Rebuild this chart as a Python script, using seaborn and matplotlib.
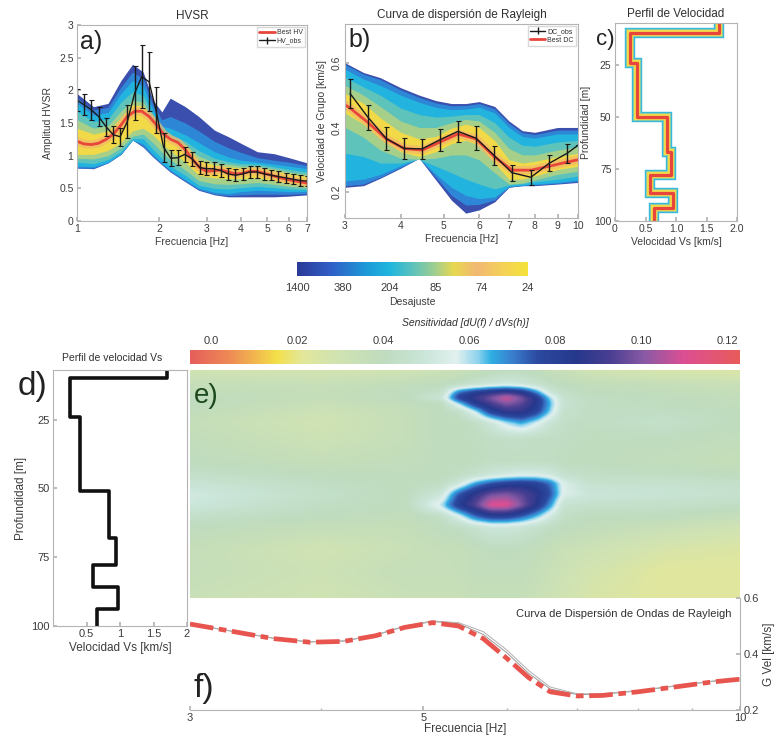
import numpy as np
import matplotlib
matplotlib.use("Agg")
import matplotlib.pyplot as plt
import seaborn as sns
from matplotlib.colors import LinearSegmentedColormap, Normalize
from matplotlib.lines import Line2D

# ---------------------------------------------------------------- data
# a) HVSR
hv_freq = [1.00, 1.06, 1.13, 1.20, 1.28, 1.36, 1.44, 1.53, 1.63, 1.73, 1.84, 1.95, 2.08, 2.21,
           2.35, 2.49, 2.65, 2.82, 2.99, 3.18, 3.38, 3.59, 3.82, 4.06, 4.31, 4.58, 4.87, 5.18,
           5.50, 5.85, 6.21, 6.60, 7.00]
hv_obs = [1.85, 1.78, 1.70, 1.60, 1.44, 1.32, 1.29, 1.52, 1.96, 2.21, 2.13, 1.70, 1.13, 0.96,
          0.97, 1.02, 0.95, 0.82, 0.80, 0.80, 0.77, 0.72, 0.70, 0.72, 0.75, 0.75, 0.72, 0.70,
          0.68, 0.66, 0.64, 0.62, 0.61]
hv_err = [0.17, 0.16, 0.15, 0.15, 0.14, 0.13, 0.14, 0.25, 0.42, 0.48, 0.45, 0.35, 0.22, 0.12,
          0.12, 0.12, 0.11, 0.10, 0.10, 0.10, 0.10, 0.09, 0.09, 0.09, 0.09, 0.09, 0.09, 0.08,
          0.08, 0.08, 0.08, 0.08, 0.08]
hv_best = [1.22, 1.18, 1.17, 1.19, 1.25, 1.33, 1.45, 1.60, 1.68, 1.68, 1.60, 1.48, 1.33, 1.25,
           1.20, 1.10, 0.95, 0.82, 0.76, 0.77, 0.78, 0.75, 0.72, 0.73, 0.76, 0.76, 0.73, 0.70,
           0.67, 0.64, 0.62, 0.60, 0.58]

env_freq_a = [1.0, 1.15, 1.3, 1.45, 1.6, 1.75, 1.9, 2.05, 2.2, 2.5, 2.8, 3.2, 3.6, 4.0, 4.6, 5.3, 6.0, 7.0]
a_up_dark = [1.95, 1.75, 1.80, 2.15, 2.40, 2.28, 1.85, 1.67, 1.88, 1.75, 1.60, 1.39, 1.29, 1.19, 1.06, 1.03, 0.97, 0.89]
a_up_blue = [1.88, 1.70, 1.74, 2.05, 2.28, 2.18, 1.78, 1.55, 1.60, 1.50, 1.38, 1.22, 1.12, 1.05, 0.97, 0.93, 0.90, 0.85]
a_up_cyan = [1.80, 1.62, 1.66, 1.95, 2.15, 2.06, 1.70, 1.45, 1.42, 1.32, 1.20, 1.06, 0.98, 0.93, 0.90, 0.87, 0.84, 0.80]
a_up_teal = [1.68, 1.52, 1.56, 1.82, 1.98, 1.92, 1.62, 1.38, 1.32, 1.22, 1.08, 0.96, 0.91, 0.88, 0.87, 0.83, 0.79, 0.75]
a_up_green = [1.55, 1.42, 1.46, 1.68, 1.85, 1.82, 1.56, 1.35, 1.28, 1.16, 0.99, 0.90, 0.87, 0.84, 0.84, 0.80, 0.75, 0.71]
a_up_yel = [1.42, 1.33, 1.38, 1.58, 1.78, 1.76, 1.53, 1.36, 1.29, 1.14, 0.92, 0.86, 0.83, 0.81, 0.82, 0.77, 0.72, 0.68]
a_lo_yel = [1.02, 1.02, 1.08, 1.20, 1.38, 1.42, 1.32, 1.18, 1.08, 0.90, 0.70, 0.66, 0.65, 0.65, 0.66, 0.62, 0.58, 0.55]
a_lo_green = [0.96, 0.95, 1.00, 1.12, 1.30, 1.33, 1.20, 1.05, 0.94, 0.78, 0.62, 0.57, 0.56, 0.57, 0.59, 0.56, 0.53, 0.51]
a_lo_teal = [0.90, 0.88, 0.94, 1.06, 1.26, 1.26, 1.10, 0.96, 0.84, 0.70, 0.55, 0.50, 0.49, 0.51, 0.53, 0.51, 0.49, 0.48]
a_lo_cyan = [0.84, 0.83, 0.90, 1.03, 1.24, 1.18, 1.02, 0.89, 0.78, 0.63, 0.50, 0.44, 0.42, 0.45, 0.47, 0.46, 0.45, 0.45]
a_lo_blue = [0.81, 0.81, 0.89, 1.02, 1.24, 1.14, 0.99, 0.87, 0.76, 0.61, 0.48, 0.41, 0.39, 0.40, 0.41, 0.41, 0.41, 0.42]
a_lo_dark = [0.81, 0.80, 0.89, 1.02, 1.24, 1.13, 0.98, 0.86, 0.75, 0.60, 0.47, 0.40, 0.37, 0.37, 0.37, 0.37, 0.38, 0.40]

# b) Rayleigh dispersion
dc_freq = [3.08, 3.38, 3.71, 4.07, 4.47, 4.90, 5.38, 5.90, 6.48, 7.11, 7.84, 8.61, 9.45, 10.0]
dc_obs = [0.505, 0.431, 0.366, 0.335, 0.334, 0.362, 0.388, 0.367, 0.314, 0.260, 0.246, 0.289, 0.320, 0.345]
dc_err = [0.046, 0.040, 0.036, 0.033, 0.030, 0.034, 0.033, 0.036, 0.030, 0.025, 0.023, 0.025, 0.030, 0.0]
dc_best_freq = [3.0, 3.08, 3.38, 3.71, 4.07, 4.47, 4.90, 5.38, 5.90, 6.48, 7.11, 7.84, 8.61, 9.45, 10.0]
dc_best = [0.47, 0.46, 0.415, 0.365, 0.335, 0.33, 0.355, 0.38, 0.365, 0.31, 0.268, 0.268, 0.28, 0.293, 0.30]

env_freq_b = [3.0, 3.3, 3.6, 4.0, 4.4, 4.8, 5.2, 5.6, 6.0, 6.5, 7.0, 7.5, 8.0, 9.0, 10.0]
b_up_dark = [0.600, 0.570, 0.554, 0.523, 0.500, 0.483, 0.474, 0.474, 0.480, 0.465, 0.420, 0.390, 0.385, 0.400, 0.400]
b_up_blue = [0.595, 0.565, 0.548, 0.516, 0.493, 0.476, 0.467, 0.468, 0.474, 0.458, 0.413, 0.384, 0.378, 0.392, 0.392]
b_up_cyan = [0.580, 0.550, 0.530, 0.500, 0.478, 0.462, 0.455, 0.457, 0.463, 0.445, 0.400, 0.372, 0.367, 0.380, 0.380]
b_up_teal = [0.555, 0.525, 0.500, 0.460, 0.440, 0.432, 0.435, 0.440, 0.440, 0.415, 0.370, 0.345, 0.342, 0.355, 0.360]
b_up_green = [0.530, 0.500, 0.465, 0.420, 0.400, 0.400, 0.415, 0.425, 0.420, 0.385, 0.335, 0.315, 0.315, 0.330, 0.340]
b_up_yel = [0.505, 0.475, 0.430, 0.385, 0.365, 0.372, 0.398, 0.410, 0.400, 0.360, 0.300, 0.290, 0.295, 0.310, 0.320]
b_lo_yel = [0.445, 0.410, 0.365, 0.325, 0.310, 0.325, 0.350, 0.360, 0.345, 0.290, 0.240, 0.240, 0.250, 0.270, 0.280]
b_lo_green = [0.400, 0.370, 0.330, 0.305, 0.302, 0.305, 0.315, 0.315, 0.300, 0.260, 0.225, 0.228, 0.238, 0.255, 0.265]
b_lo_teal = [0.320, 0.310, 0.290, 0.290, 0.302, 0.280, 0.260, 0.240, 0.225, 0.210, 0.222, 0.226, 0.232, 0.240, 0.250]
b_lo_cyan = [0.235, 0.240, 0.255, 0.282, 0.304, 0.255, 0.215, 0.190, 0.180, 0.185, 0.218, 0.222, 0.225, 0.230, 0.238]
b_lo_blue = [0.220, 0.225, 0.246, 0.276, 0.305, 0.245, 0.190, 0.160, 0.162, 0.176, 0.216, 0.220, 0.222, 0.227, 0.233]
b_lo_dark = [0.215, 0.220, 0.243, 0.274, 0.305, 0.237, 0.175, 0.135, 0.145, 0.170, 0.215, 0.220, 0.220, 0.225, 0.230]

# c) / d) velocity profiles (layer top depth [m], Vs [km/s])
c_layer_top = [0, 10, 24, 50, 67, 78, 86.5, 94]
c_vs = [1.70, 0.24, 0.36, 0.85, 0.91, 0.57, 0.95, 0.64]
d_layer_top = [0, 10, 24, 51, 68, 78, 86, 94]
d_vs = [1.70, 0.25, 0.40, 0.84, 0.94, 0.60, 0.97, 0.66]
profile_bottom = 100

# colour bar of misfit
misfit_labels = ["1400", "380", "204", "85", "74", "24"]

# e) sensitivity field
sens_freq = [3.0, 4.0, 4.8, 5.2, 5.4, 5.6, 5.8, 6.0, 6.2, 6.4, 6.6, 6.8, 7.2, 8.5, 10.0]
sens_depth = [7, 12, 15, 17, 19, 22, 26, 32, 40, 45, 48, 52, 56, 60, 64, 72, 80, 89.5]
sens_grid = [
    [0.030, 0.028, 0.030, 0.032, 0.034, 0.036, 0.038, 0.040, 0.040, 0.038, 0.036, 0.034, 0.030, 0.026, 0.024],
    [0.036, 0.035, 0.038, 0.040, 0.042, 0.046, 0.050, 0.052, 0.050, 0.046, 0.042, 0.040, 0.038, 0.036, 0.034],
    [0.038, 0.036, 0.040, 0.044, 0.072, 0.082, 0.088, 0.092, 0.086, 0.070, 0.050, 0.043, 0.040, 0.038, 0.036],
    [0.040, 0.036, 0.040, 0.050, 0.080, 0.090, 0.100, 0.110, 0.100, 0.085, 0.062, 0.046, 0.042, 0.040, 0.038],
    [0.040, 0.034, 0.038, 0.040, 0.060, 0.082, 0.092, 0.100, 0.095, 0.085, 0.065, 0.047, 0.042, 0.040, 0.038],
    [0.038, 0.032, 0.036, 0.040, 0.043, 0.058, 0.080, 0.088, 0.088, 0.080, 0.062, 0.045, 0.042, 0.042, 0.040],
    [0.036, 0.030, 0.036, 0.040, 0.040, 0.042, 0.050, 0.060, 0.066, 0.058, 0.048, 0.043, 0.042, 0.044, 0.040],
    [0.038, 0.032, 0.036, 0.040, 0.040, 0.041, 0.042, 0.043, 0.043, 0.042, 0.042, 0.042, 0.040, 0.040, 0.038],
    [0.040, 0.036, 0.038, 0.040, 0.040, 0.040, 0.042, 0.042, 0.042, 0.042, 0.042, 0.040, 0.040, 0.038, 0.036],
    [0.044, 0.040, 0.040, 0.040, 0.042, 0.046, 0.050, 0.053, 0.055, 0.055, 0.052, 0.046, 0.043, 0.042, 0.040],
    [0.048, 0.042, 0.040, 0.042, 0.050, 0.066, 0.075, 0.080, 0.082, 0.080, 0.072, 0.055, 0.046, 0.046, 0.044],
    [0.052, 0.044, 0.040, 0.050, 0.075, 0.088, 0.098, 0.100, 0.095, 0.088, 0.076, 0.055, 0.050, 0.048, 0.046],
    [0.050, 0.042, 0.040, 0.060, 0.082, 0.095, 0.112, 0.112, 0.100, 0.086, 0.068, 0.046, 0.045, 0.044, 0.042],
    [0.044, 0.040, 0.038, 0.043, 0.055, 0.072, 0.080, 0.080, 0.074, 0.064, 0.052, 0.043, 0.040, 0.040, 0.036],
    [0.040, 0.036, 0.036, 0.040, 0.042, 0.046, 0.050, 0.050, 0.048, 0.045, 0.042, 0.040, 0.038, 0.034, 0.030],
    [0.036, 0.030, 0.034, 0.036, 0.036, 0.038, 0.040, 0.040, 0.040, 0.038, 0.036, 0.034, 0.032, 0.026, 0.024],
    [0.036, 0.032, 0.036, 0.036, 0.036, 0.038, 0.038, 0.038, 0.038, 0.036, 0.034, 0.032, 0.028, 0.022, 0.022],
    [0.034, 0.030, 0.034, 0.034, 0.034, 0.036, 0.036, 0.036, 0.036, 0.034, 0.032, 0.030, 0.026, 0.022, 0.022],
]
sens_ticks = [0.0, 0.02, 0.04, 0.06, 0.08, 0.10, 0.12]
sens_tick_labels = ["0.0", "0.02", "0.04", "0.06", "0.08", "0.10", "0.12"]

# f) dispersion curve
f_freq = [3.0, 3.3, 3.6, 3.9, 4.2, 4.5, 4.8, 5.1, 5.4, 5.7, 6.0, 6.3, 6.6, 7.0, 7.4, 8.0, 8.7, 9.4, 10.0]
f_vel = [0.507, 0.480, 0.455, 0.442, 0.445, 0.465, 0.495, 0.512, 0.500, 0.455, 0.385, 0.315, 0.265,
         0.250, 0.252, 0.265, 0.283, 0.300, 0.310]
f_gray1 = [0.507, 0.480, 0.456, 0.443, 0.446, 0.467, 0.498, 0.516, 0.508, 0.470, 0.405, 0.330, 0.275,
           0.255, 0.256, 0.268, 0.286, 0.302, 0.312]
f_gray2 = [0.507, 0.481, 0.457, 0.444, 0.447, 0.468, 0.500, 0.518, 0.512, 0.480, 0.415, 0.340, 0.282,
           0.258, 0.258, 0.270, 0.287, 0.303, 0.313]

# ---------------------------------------------------------------- style
sns.set_theme(style="white")
plt.rcParams['font.family'] = ['Liberation Sans', 'DejaVu Sans']
plt.rcParams.update({
    'axes.edgecolor': '#b4b4b4', 'axes.linewidth': 0.8,
    'xtick.direction': 'in', 'ytick.direction': 'in',
    'xtick.bottom': True, 'ytick.left': True,
    'xtick.color': '#b4b4b4', 'ytick.color': '#b4b4b4',
    'xtick.labelcolor': '#3c3c3c', 'ytick.labelcolor': '#3c3c3c',
    'xtick.labelsize': 7.5, 'ytick.labelsize': 7.5,
    'axes.labelsize': 7.5, 'axes.labelcolor': '#3c3c3c',
    'xtick.major.size': 3, 'ytick.major.size': 3,
    'xtick.minor.size': 1.8, 'ytick.minor.size': 1.8,
    'xtick.major.pad': 2.5, 'ytick.major.pad': 2.5,
    'text.color': '#303030',
})

W, H = 777, 753
fig = plt.figure(figsize=(W / 100, H / 100), dpi=100)
fig.patch.set_facecolor('white')


def rect(x0, y0, x1, y1):
    return [x0 / W, 1 - y1 / H, (x1 - x0) / W, (y1 - y0) / H]


def fpos(x, y):
    return x / W, 1 - y / H


RED = '#e8463c'
ORANGE = '#f3b86a'
band_cols = ['#3a4fae', '#2e86d6', '#22b4df', '#5ec3bb', '#a6d08a', '#f2d948']

parula = LinearSegmentedColormap.from_list('misfit', [
    (0.0, '#2b3a98'), (0.15, '#3060c8'), (0.3, '#1d9ad8'), (0.4, '#20b6de'),
    (0.5, '#5cc2bc'), (0.6, '#a2cf8e'), (0.68, '#e8d850'), (0.78, '#f2b874'),
    (0.88, '#f4cf5c'), (1.0, '#f5e33a')])

svmin, svmax = -0.005, 0.123
stops = [(-0.005, '#e65f5c'), (0.004, '#ee8a55'), (0.010, '#f2b84e'), (0.015, '#f4e04a'),
         (0.021, '#e3e79a'), (0.028, '#d3e4b0'), (0.040, '#bfdcbf'), (0.050, '#cbe6da'),
         (0.057, '#e2f1ef'), (0.062, '#8fd3ee'), (0.065, '#2fb0e3'), (0.070, '#3a7fcf'),
         (0.076, '#2c4aa0'), (0.085, '#26388c'), (0.093, '#4a3f92'), (0.101, '#8a5aa5'),
         (0.110, '#dc4f94'), (0.123, '#e85b5b')]
sens_cmap = LinearSegmentedColormap.from_list(
    'sens', [((v - svmin) / (svmax - svmin), c) for v, c in stops])


def log_ticks(ax, ticks, labels):
    ax.xaxis.set_major_locator(matplotlib.ticker.FixedLocator(ticks))
    ax.xaxis.set_major_formatter(matplotlib.ticker.FixedFormatter(labels))
    ax.xaxis.set_minor_locator(matplotlib.ticker.NullLocator())


def steps(tops, vs, bottom):
    xs, ys = [], []
    for i, v in enumerate(vs):
        b = tops[i + 1] if i + 1 < len(tops) else bottom
        xs += [v, v]
        ys += [tops[i], b]
    return xs, ys


# ---------------------------------------------------------------- a) HVSR
axA = fig.add_axes(rect(77, 25, 307, 221))
a_bands = [(a_up_dark, a_lo_dark), (a_up_blue, a_lo_blue), (a_up_cyan, a_lo_cyan),
           (a_up_teal, a_lo_teal), (a_up_green, a_lo_green), (a_up_yel, a_lo_yel)]
for (up, lo), col in zip(a_bands, band_cols):
    axA.fill_between(env_freq_a, lo, up, color=col, lw=0)
axA.plot(hv_freq, hv_best, color=ORANGE, lw=6, alpha=0.7, solid_capstyle='round')
sns.lineplot(x=hv_freq, y=hv_best, ax=axA, color=RED, lw=2, legend=False)
axA.errorbar(hv_freq, hv_obs, yerr=hv_err, color='k', lw=1, elinewidth=1, capsize=1.8, capthick=0.8)
axA.set_xscale('log')
axA.set_xlim(1, 7)
axA.set_ylim(0, 3)
log_ticks(axA, [1, 2, 3, 4, 5, 6, 7], ['1', '2', '3', '4', '5', '6', '7'])
axA.set_yticks([0, 0.5, 1, 1.5, 2, 2.5, 3])
axA.set_yticklabels(['0', '0.5', '1', '1.5', '2', '2.5', '3'])
axA.set_title('HVSR', fontsize=8.5, pad=4, color='#303030')
axA.set_xlabel('Frecuencia [Hz]', labelpad=2)
axA.set_ylabel('Amplitud HVSR', labelpad=4)
hA = [Line2D([], [], color=RED, lw=2),
      axA.errorbar([], [], yerr=[], color='k', lw=1, capsize=1.5)]
axA.legend(hA, ['Best HV', 'HV_obs'], loc='upper right', fontsize=5, frameon=True,
           handlelength=2.2, borderpad=0.3, labelspacing=0.2, handletextpad=0.3,
           edgecolor='#d0d0d0', fancybox=False, borderaxespad=0.3)

# ---------------------------------------------------------------- b) dispersion
axB = fig.add_axes(rect(345, 24, 578, 218))
b_bands = [(b_up_dark, b_lo_dark), (b_up_blue, b_lo_blue), (b_up_cyan, b_lo_cyan),
           (b_up_teal, b_lo_teal), (b_up_green, b_lo_green), (b_up_yel, b_lo_yel)]
for (up, lo), col in zip(b_bands, band_cols):
    axB.fill_between(env_freq_b, lo, up, color=col, lw=0)
axB.plot(dc_best_freq, dc_best, color=ORANGE, lw=6, alpha=0.7)
sns.lineplot(x=dc_best_freq, y=dc_best, ax=axB, color=RED, lw=2, legend=False)
axB.errorbar(dc_freq, dc_obs, yerr=dc_err, color='k', lw=1, elinewidth=1, capsize=1.8, capthick=0.8)
axB.set_xscale('log')
axB.set_xlim(3, 10)
axB.set_ylim(0.12, 0.72)
log_ticks(axB, [3, 4, 5, 6, 7, 8, 9, 10], ['3', '4', '5', '6', '7', '8', '9', '10'])
axB.set_yticks([0.2, 0.4, 0.6])
axB.set_yticklabels(['0.2', '0.4', '0.6'], rotation=90, va='center')
axB.set_title('Curva de dispersión de Rayleigh', fontsize=8.5, pad=4, color='#303030')
axB.set_xlabel('Frecuencia [Hz]', labelpad=2)
axB.set_ylabel('Velocidad de Grupo [km/s]', labelpad=3)
hB = [axB.errorbar([], [], yerr=[], color='k', lw=1, capsize=1.5),
      Line2D([], [], color=RED, lw=2)]
axB.legend(hB, ['DC_obs', 'Best DC'], loc='upper right', fontsize=5, frameon=True,
           handlelength=2.2, borderpad=0.3, labelspacing=0.2, handletextpad=0.3,
           edgecolor='#d0d0d0', fancybox=False, borderaxespad=0.3)

# ---------------------------------------------------------------- c) profile
axC = fig.add_axes(rect(615, 23, 737, 221))
cx, cy = steps(c_layer_top, c_vs, profile_bottom)
for lw, col in [(7.5, '#35b8e0'), (5.8, '#8ccaa0'), (4.3, '#f4d94a')]:
    axC.plot(cx, cy, color=col, lw=lw, solid_joinstyle='miter')
sns.lineplot(x=cx, y=cy, ax=axC, color=RED, lw=2.3, sort=False, estimator=None, legend=False)
axC.set_xlim(0, 2)
axC.set_ylim(100, 5)
axC.set_xticks([0, 0.5, 1, 1.5, 2])
axC.set_xticklabels(['0', '0.5', '1.0', '1.5', '2.0'])
axC.set_yticks([25, 50, 75, 100])
axC.set_yticklabels(['25', '50', '75', '100'])
axC.set_title('Perfil de Velocidad', fontsize=8.5, pad=4, color='#303030')
axC.set_xlabel('Velocidad Vs [km/s]', labelpad=2)
axC.set_ylabel('Profundidad [m]', labelpad=2)

# ---------------------------------------------------------------- misfit colour bar
cax1 = fig.add_axes(rect(297, 262, 528, 276))
cax1.imshow(np.linspace(0, 1, 256)[None, :], aspect='auto', cmap=parula, extent=[0, 5, 0, 1])
cax1.set_xticks(range(6))
cax1.set_xticklabels(misfit_labels, fontsize=8)
cax1.set_yticks([])
cax1.tick_params(axis='x', length=0, pad=5)
for s in cax1.spines.values():
    s.set_visible(False)
cax1.set_xlabel('Desajuste', labelpad=3)

# ---------------------------------------------------------------- sensitivity colour bar
caxS = fig.add_axes(rect(190, 350, 740, 364))
caxS.imshow(np.linspace(svmin, svmax, 512)[None, :], aspect='auto', cmap=sens_cmap,
            norm=Normalize(svmin, svmax), extent=[svmin, svmax, 0, 1])
caxS.set_xlim(svmin, svmax)
caxS.xaxis.tick_top()
caxS.set_xticks(sens_ticks)
caxS.set_xticklabels(sens_tick_labels, fontsize=8)
caxS.tick_params(axis='x', length=0, pad=3, top=True, bottom=False)
caxS.set_yticks([])
for s in caxS.spines.values():
    s.set_visible(False)
fig.text(*fpos(465, 323), 'Sensitividad [dU(f) / dVs(h)]', ha='center', va='center',
         fontsize=7.5, style='italic', color='#303030')

# ---------------------------------------------------------------- e) sensitivity image
axE = fig.add_axes(rect(190, 370, 740, 598))
logf = np.log(sens_freq)
fx = np.linspace(logf[0], logf[-1], 440)
dy = np.linspace(sens_depth[0], sens_depth[-1], 240)
S = np.array(sens_grid)
tmp = np.array([np.interp(fx, logf, row) for row in S])
Z = np.array([np.interp(dy, sens_depth, tmp[:, j]) for j in range(tmp.shape[1])]).T
k = np.array([1, 4, 6, 4, 1], float)
k /= k.sum()
for _ in range(3):
    Z = np.apply_along_axis(lambda r: np.convolve(np.pad(r, 2, mode='edge'), k, mode='valid'), 1, Z)
    Z = np.apply_along_axis(lambda c: np.convolve(np.pad(c, 2, mode='edge'), k, mode='valid'), 0, Z)
axE.imshow(Z, aspect='auto', cmap=sens_cmap, norm=Normalize(svmin, svmax),
           extent=[logf[0], logf[-1], sens_depth[-1], sens_depth[0]], interpolation='bilinear')
axE.set_axis_off()

# ---------------------------------------------------------------- d) profile
axD = fig.add_axes(rect(53, 370, 187, 626))
dx, dyp = steps(d_layer_top, d_vs, profile_bottom)
sns.lineplot(x=dx, y=dyp, ax=axD, color='#111111', lw=2.6, sort=False, estimator=None, legend=False)
axD.set_xlim(0, 2)
axD.set_ylim(100, 7)
axD.set_xticks([0.5, 1, 1.5, 2])
axD.set_xticklabels(['0.5', '1', '1.5', '2'])
axD.set_yticks([25, 50, 75, 100])
axD.set_yticklabels(['25', '50', '75', '100'])
axD.set_xlabel('Velocidad Vs [km/s]', fontsize=8.5, labelpad=2)
axD.set_ylabel('Profundidad [m]', fontsize=8.5, labelpad=3)
axD.tick_params(labelsize=8)
fig.text(*fpos(62, 358), 'Perfil de velocidad Vs', ha='left', va='center', fontsize=7.5)

# ---------------------------------------------------------------- f) dispersion curve
axF = fig.add_axes(rect(190, 598, 740, 710))
axF.patch.set_alpha(0)
axF.plot(f_freq, f_gray1, color='#9a9a9a', lw=0.7)
axF.plot(f_freq, f_gray2, color='#b0b0b0', lw=0.7)
sns.lineplot(x=f_freq, y=f_vel, ax=axF, color='#e8544e', lw=3.4, legend=False,
             dashes=False)
axF.lines[-1].set_dashes((5, 1.2, 1.6, 1.2))
axF.set_xscale('log')
axF.set_xlim(3, 10)
axF.set_ylim(0.2, 0.6)
axF.xaxis.set_major_locator(matplotlib.ticker.FixedLocator([3, 5, 10]))
axF.xaxis.set_major_formatter(matplotlib.ticker.FixedFormatter(['3', '5', '10']))
axF.xaxis.set_minor_locator(matplotlib.ticker.FixedLocator([4, 6, 7, 8, 9]))
axF.xaxis.set_minor_formatter(matplotlib.ticker.NullFormatter())
axF.tick_params(axis='x', which='both', bottom=True, top=False)
axF.yaxis.tick_right()
axF.yaxis.set_label_position('right')
axF.set_yticks([0.2, 0.4, 0.6])
axF.set_yticklabels(['0.2', '0.4', '0.6'])
axF.tick_params(axis='y', right=True, left=False, labelsize=8)
axF.tick_params(axis='x', labelsize=8)
axF.spines['top'].set_visible(False)
axF.spines['left'].set_visible(False)
axF.set_xlabel('Frecuencia [Hz]', fontsize=8.5, labelpad=0)
axF.set_ylabel('G Vel [km/s]', fontsize=8.5, labelpad=3)
axF.text(0.985, 0.90, 'Curva de Dispersión de Ondas de Rayleigh', transform=axF.transAxes,
         ha='right', va='top', fontsize=8, color='#303030')

# ---------------------------------------------------------------- panel letters
fig.text(*fpos(80, 42), 'a)', fontsize=18, va='center', ha='left', color='#222222')
fig.text(*fpos(348, 40), 'b)', fontsize=18, va='center', ha='left', color='#222222')
fig.text(*fpos(596, 40), 'c)', fontsize=16, va='center', ha='left', color='#222222')
fig.text(*fpos(18, 386), 'd)', fontsize=24, va='center', ha='left', color='#222222')
fig.text(*fpos(194, 396), 'e)', fontsize=20, va='center', ha='left', color='#1d4a1d')
fig.text(*fpos(194, 688), 'f)', fontsize=24, va='center', ha='left', color='#222222')

fig.savefig('out.png', dpi=100, facecolor='white')
